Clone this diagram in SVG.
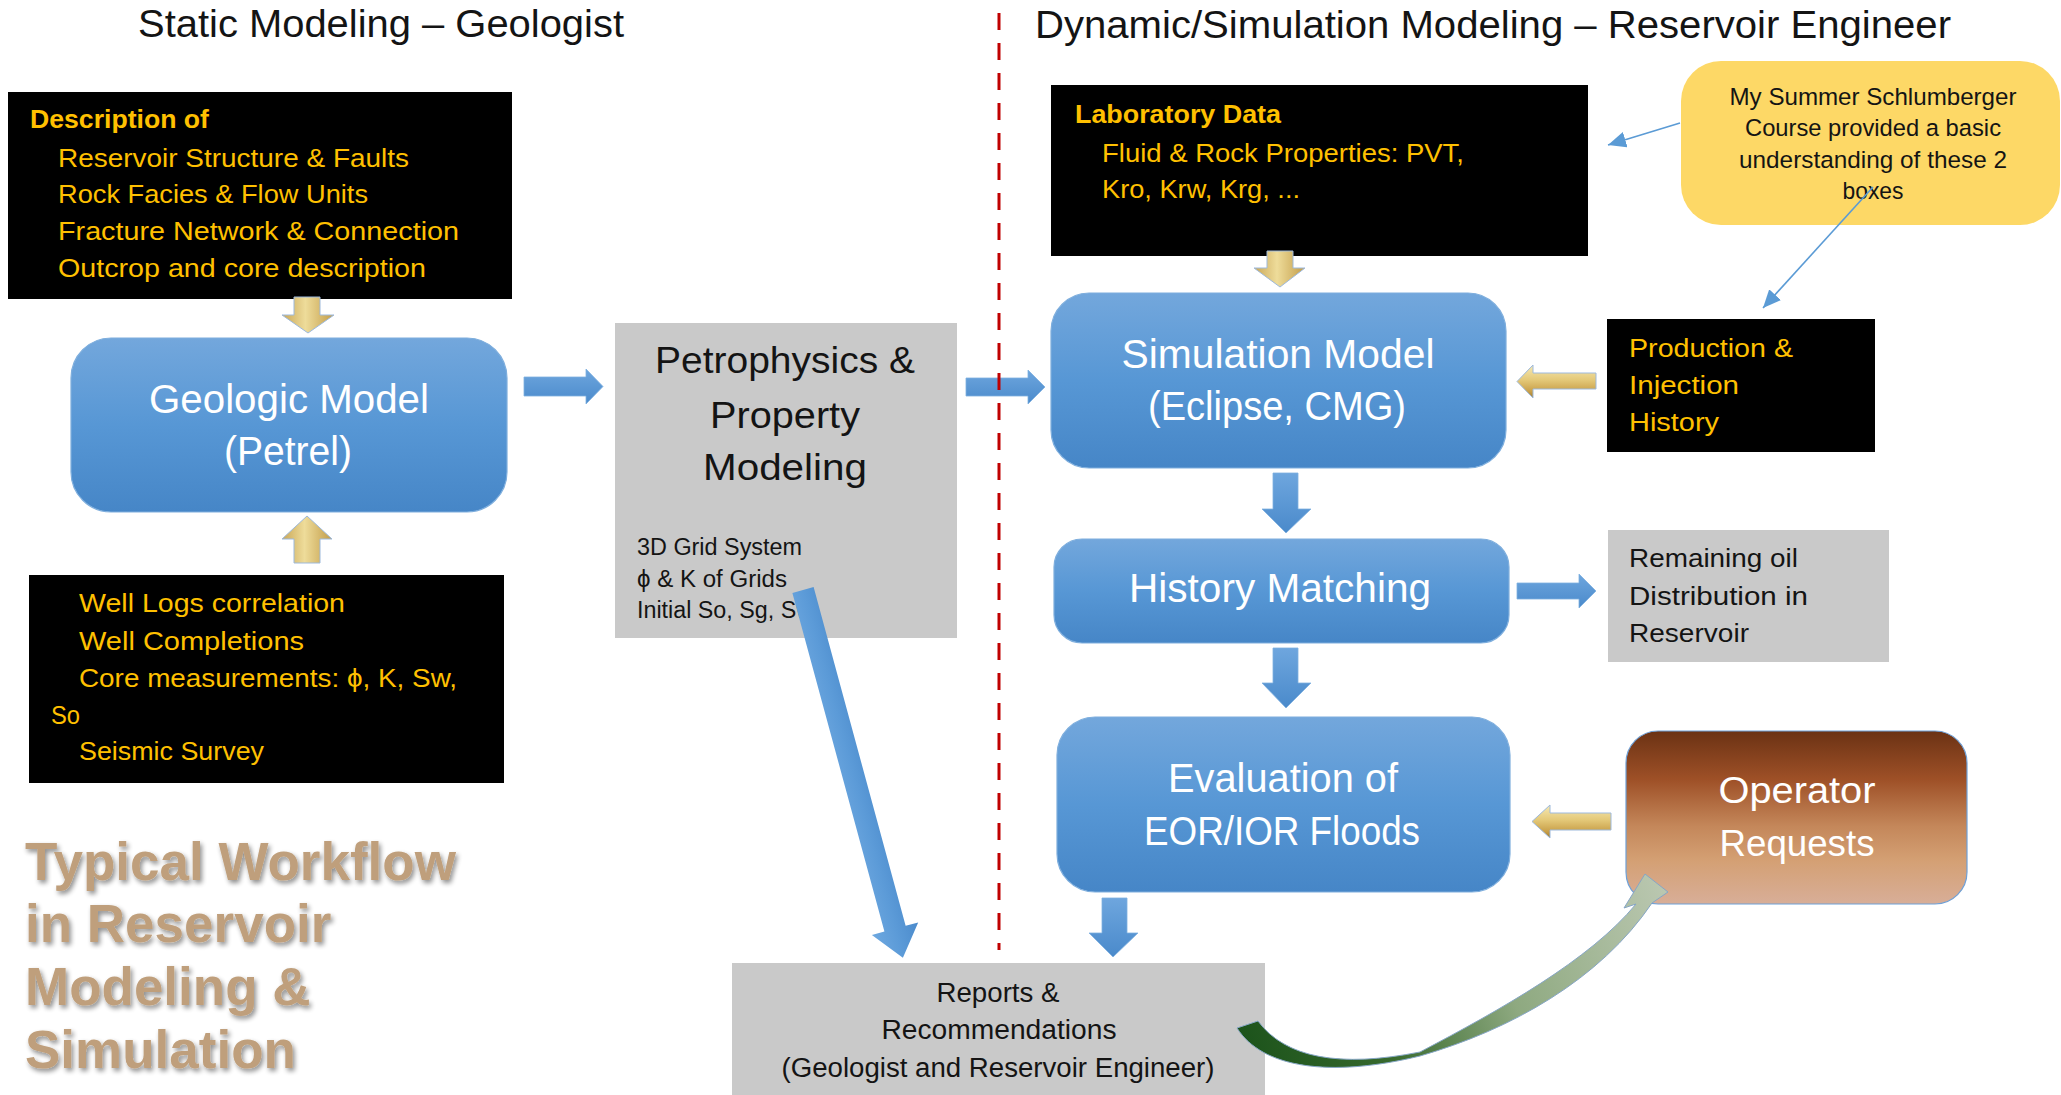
<svg xmlns="http://www.w3.org/2000/svg" width="2061" height="1095" viewBox="0 0 2061 1095">
<defs>
<style>
.t{font-family:"Liberation Sans",Arial,sans-serif;}
.yl{fill:#FFC000;}
.wh{fill:#FFFFFF;}
.bk{fill:#141414;}
.blk{fill:#000000;}
.gry{fill:#C9C9C9;}
.bbox{fill:url(#gBox);stroke:#7EAEDD;stroke-width:1.2;}
.barr{fill:url(#gArr);stroke:#7FB0E0;stroke-width:0.8;}
.gh{fill:url(#gGoldH);stroke:#9DB9DC;stroke-width:1;}
.gv{fill:url(#gGoldV);stroke:#9DB9DC;stroke-width:1;}
.thin{stroke:#5B9BD5;stroke-width:1.6;fill:none;}
.title{font-family:"Liberation Sans",Arial,sans-serif;font-weight:bold;font-size:53px;fill:#BF9F7B;}
</style>
<linearGradient id="gBox" x1="0" y1="0" x2="0" y2="1">
<stop offset="0" stop-color="#73A7DC"/><stop offset="0.5" stop-color="#5797D5"/><stop offset="1" stop-color="#4686C7"/>
</linearGradient>
<linearGradient id="gArr" x1="0" y1="0" x2="0" y2="1">
<stop offset="0" stop-color="#6EA6DE"/><stop offset="1" stop-color="#4A8ACB"/>
</linearGradient>
<linearGradient id="gDiag" x1="0" y1="0" x2="0" y2="1">
<stop offset="0" stop-color="#4B8BCC"/><stop offset="0.5" stop-color="#5C9BD8"/><stop offset="1" stop-color="#6EA8E0"/>
</linearGradient>
<linearGradient id="gGoldH" x1="0" y1="0" x2="0" y2="1">
<stop offset="0" stop-color="#F6E9B4"/><stop offset="0.45" stop-color="#E4C979"/><stop offset="0.8" stop-color="#C9A04A"/><stop offset="1" stop-color="#A07C32"/>
</linearGradient>
<linearGradient id="gGoldV" x1="0" y1="0" x2="1" y2="0">
<stop offset="0" stop-color="#C9A656"/><stop offset="0.45" stop-color="#EEDC9A"/><stop offset="1" stop-color="#C29C48"/>
</linearGradient>
<linearGradient id="gOp" x1="0" y1="0" x2="0" y2="1">
<stop offset="0" stop-color="#6B3214"/><stop offset="0.28" stop-color="#9E5027"/><stop offset="0.55" stop-color="#C4875A"/><stop offset="0.75" stop-color="#D4A074"/><stop offset="1" stop-color="#D8AE98"/>
</linearGradient>
<linearGradient id="gCurve" gradientUnits="userSpaceOnUse" x1="1240" y1="1035" x2="1660" y2="880">
<stop offset="0" stop-color="#1C531B"/><stop offset="0.3" stop-color="#386A2E"/><stop offset="0.6" stop-color="#8EA980"/><stop offset="1" stop-color="#BAC7B0"/>
</linearGradient>
<marker id="mh" markerUnits="userSpaceOnUse" markerWidth="20" markerHeight="16" refX="18" refY="8" orient="auto">
<path d="M0,0 L18,8 L0,16 Z" fill="#5B9BD5"/>
</marker>
<filter id="shadow" x="-5%" y="-10%" width="115%" height="140%">
<feGaussianBlur in="SourceAlpha" stdDeviation="2.5"/>
<feOffset dx="2" dy="3" result="o"/>
<feComponentTransfer><feFuncA type="linear" slope="0.45"/></feComponentTransfer>
<feMerge><feMergeNode/><feMergeNode in="SourceGraphic"/></feMerge>
</filter>
</defs>
<rect x="0" y="0" width="2061" height="1095" fill="#FFFFFF"/>

<g id="header-left">
<text class="t bk" x="138" y="37" font-size="38" textLength="486" lengthAdjust="spacingAndGlyphs">Static Modeling – Geologist</text>
</g>
<g id="header-right">
<text class="t bk" x="1035" y="38" font-size="38" textLength="916" lengthAdjust="spacingAndGlyphs">Dynamic/Simulation  Modeling – Reservoir  Engineer</text>
</g>

<g id="node-description">
<rect class="blk" x="8" y="92" width="504" height="207"/>
<text class="t yl" x="30" y="128" font-size="25.5" font-weight="bold" textLength="179" lengthAdjust="spacingAndGlyphs">Description of</text>
<text class="t yl" x="58" y="167" font-size="25.5" textLength="351" lengthAdjust="spacingAndGlyphs">Reservoir Structure &amp; Faults</text>
<text class="t yl" x="58" y="203" font-size="25.5" textLength="310" lengthAdjust="spacingAndGlyphs">Rock Facies &amp; Flow Units</text>
<text class="t yl" x="58" y="240" font-size="25.5" textLength="401" lengthAdjust="spacingAndGlyphs">Fracture Network &amp; Connection</text>
<text class="t yl" x="58" y="277" font-size="25.5" textLength="368" lengthAdjust="spacingAndGlyphs">Outcrop and core description</text>
</g>

<g id="node-geologic">
<rect class="bbox" x="71" y="338" width="436" height="174" rx="40" ry="40"/>
<text class="t wh" x="289" y="413" font-size="41" text-anchor="middle" textLength="280" lengthAdjust="spacingAndGlyphs">Geologic Model</text>
<text class="t wh" x="288" y="465" font-size="41" text-anchor="middle" textLength="128" lengthAdjust="spacingAndGlyphs">(Petrel)</text>
</g>

<g id="node-welllogs">
<rect class="blk" x="29" y="575" width="475" height="208"/>
<text class="t yl" x="79" y="612" font-size="25.5" textLength="266" lengthAdjust="spacingAndGlyphs">Well Logs correlation</text>
<text class="t yl" x="79" y="650" font-size="25.5" textLength="225" lengthAdjust="spacingAndGlyphs">Well Completions</text>
<text class="t yl" x="79" y="687" font-size="25.5" textLength="378" lengthAdjust="spacingAndGlyphs">Core measurements: ϕ, K, Sw,</text>
<text class="t yl" x="51" y="724" font-size="25.5" textLength="29" lengthAdjust="spacingAndGlyphs">So</text>
<text class="t yl" x="79" y="760" font-size="25.5" textLength="185" lengthAdjust="spacingAndGlyphs">Seismic Survey</text>
</g>

<g id="node-petrophysics">
<rect class="gry" x="615" y="323" width="342" height="315"/>
<text class="t bk" x="785" y="373" font-size="37" text-anchor="middle" textLength="260" lengthAdjust="spacingAndGlyphs">Petrophysics &amp;</text>
<text class="t bk" x="785" y="428" font-size="37" text-anchor="middle" textLength="150" lengthAdjust="spacingAndGlyphs">Property</text>
<text class="t bk" x="785" y="480" font-size="37" text-anchor="middle" textLength="164" lengthAdjust="spacingAndGlyphs">Modeling</text>
<text class="t bk" x="637" y="555" font-size="23.5" textLength="165" lengthAdjust="spacingAndGlyphs">3D Grid System</text>
<text class="t bk" x="637" y="587" font-size="23.5" textLength="150" lengthAdjust="spacingAndGlyphs">ϕ &amp; K of Grids</text>
<text class="t bk" x="637" y="618" font-size="23.5" textLength="176" lengthAdjust="spacingAndGlyphs">Initial So, Sg, Sw</text>
</g>

<g id="node-laboratory">
<rect class="blk" x="1051" y="85" width="537" height="171"/>
<text class="t yl" x="1075" y="123" font-size="25.5" font-weight="bold" textLength="206" lengthAdjust="spacingAndGlyphs">Laboratory Data</text>
<text class="t yl" x="1102" y="162" font-size="25.5" textLength="362" lengthAdjust="spacingAndGlyphs">Fluid &amp; Rock Properties: PVT,</text>
<text class="t yl" x="1102" y="198" font-size="25.5" textLength="198" lengthAdjust="spacingAndGlyphs">Kro, Krw, Krg, ...</text>
</g>

<g id="node-callout">
<rect x="1681" y="61" width="379" height="164" rx="40" ry="40" fill="#FDD866"/>
<text class="t bk" x="1873" y="105" font-size="24.5" text-anchor="middle" textLength="287" lengthAdjust="spacingAndGlyphs">My Summer Schlumberger</text>
<text class="t bk" x="1873" y="136" font-size="24.5" text-anchor="middle" textLength="256" lengthAdjust="spacingAndGlyphs">Course provided a basic</text>
<text class="t bk" x="1873" y="168" font-size="24.5" text-anchor="middle" textLength="268" lengthAdjust="spacingAndGlyphs">understanding of these 2</text>
<text class="t bk" x="1873" y="199" font-size="24.5" text-anchor="middle" textLength="61" lengthAdjust="spacingAndGlyphs">boxes</text>
</g>

<g id="node-simulation">
<rect class="bbox" x="1051" y="293" width="455" height="175" rx="38" ry="38"/>
<text class="t wh" x="1278" y="368" font-size="41" text-anchor="middle" textLength="313" lengthAdjust="spacingAndGlyphs">Simulation Model</text>
<text class="t wh" x="1277" y="420" font-size="41" text-anchor="middle" textLength="258" lengthAdjust="spacingAndGlyphs">(Eclipse, CMG)</text>
</g>

<g id="node-production">
<rect class="blk" x="1607" y="319" width="268" height="133"/>
<text class="t yl" x="1629" y="357" font-size="25.5" textLength="164" lengthAdjust="spacingAndGlyphs">Production &amp;</text>
<text class="t yl" x="1629" y="394" font-size="25.5" textLength="110" lengthAdjust="spacingAndGlyphs">Injection</text>
<text class="t yl" x="1629" y="431" font-size="25.5" textLength="90" lengthAdjust="spacingAndGlyphs">History</text>
</g>

<g id="node-history">
<rect class="bbox" x="1054" y="539" width="455" height="104" rx="28" ry="28"/>
<text class="t wh" x="1280" y="602" font-size="40" text-anchor="middle" textLength="302" lengthAdjust="spacingAndGlyphs">History Matching</text>
</g>

<g id="node-remaining">
<rect class="gry" x="1608" y="530" width="281" height="132"/>
<text class="t bk" x="1629" y="567" font-size="25.5" textLength="169" lengthAdjust="spacingAndGlyphs">Remaining oil</text>
<text class="t bk" x="1629" y="605" font-size="25.5" textLength="179" lengthAdjust="spacingAndGlyphs">Distribution in</text>
<text class="t bk" x="1629" y="642" font-size="25.5" textLength="120" lengthAdjust="spacingAndGlyphs">Reservoir</text>
</g>

<g id="node-evaluation">
<rect class="bbox" x="1057" y="717" width="453" height="175" rx="38" ry="38"/>
<text class="t wh" x="1283" y="792" font-size="40" text-anchor="middle" textLength="230" lengthAdjust="spacingAndGlyphs">Evaluation of</text>
<text class="t wh" x="1282" y="845" font-size="40" text-anchor="middle" textLength="276" lengthAdjust="spacingAndGlyphs">EOR/IOR Floods</text>
</g>

<g id="node-operator">
<rect x="1626" y="731" width="341" height="173" rx="32" ry="32" fill="url(#gOp)" stroke="#6FA0D6" stroke-width="1.2"/>
<text class="t wh" x="1797" y="803" font-size="36" text-anchor="middle" textLength="157" lengthAdjust="spacingAndGlyphs">Operator</text>
<text class="t wh" x="1797" y="856" font-size="36" text-anchor="middle" textLength="155" lengthAdjust="spacingAndGlyphs">Requests</text>
</g>

<g id="node-reports">
<rect class="gry" x="732" y="963" width="533" height="140"/>
<text class="t bk" x="998" y="1002" font-size="27" text-anchor="middle" textLength="123" lengthAdjust="spacingAndGlyphs">Reports &amp;</text>
<text class="t bk" x="999" y="1039" font-size="27" text-anchor="middle" textLength="235" lengthAdjust="spacingAndGlyphs">Recommendations</text>
<text class="t bk" x="998" y="1077" font-size="27" text-anchor="middle" textLength="433" lengthAdjust="spacingAndGlyphs">(Geologist and Reservoir Engineer)</text>
</g>

<g id="title" filter="url(#shadow)">
<text class="title" x="25" y="880">Typical Workflow</text>
<text class="title" x="25" y="942">in Reservoir</text>
<text class="title" x="25" y="1005">Modeling &amp;</text>
<text class="title" x="25" y="1068">Simulation</text>
</g>

<g id="connectors">
<polygon class="gv" points="294,297 320,297 320,315 334,315 308,333 282,315 294,315"/>
<polygon class="gv" points="294,563 320,563 320,539 332,539 307,516 282,539 294,539"/>
<polygon class="gv" points="1267,251 1293,251 1293,268 1305,268 1280,287 1254,268 1267,268"/>
<polygon class="gh" points="1596,373 1533,373 1533,365 1517,381.5 1533,398 1533,389 1596,389"/>
<polygon class="gh" points="1611,813 1550,813 1550,805 1532,821.5 1550,838 1550,830 1611,830"/>
<polygon class="barr" points="524,377 586,377 586,369 603,386.5 586,404 586,396 524,396"/>
<polygon class="barr" points="966,378 1028,378 1028,370 1045,387 1028,404 1028,396 966,396"/>
<polygon class="barr" points="1517,583 1579,583 1579,574 1596,591 1579,608 1579,599 1517,599"/>
<polygon class="barr" points="1273,473 1298,473 1298,509 1311,509 1286,533 1262,509 1273,509"/>
<polygon class="barr" points="1273,648 1298,648 1298,683 1311,683 1286,708 1262,683 1273,683"/>
<polygon class="barr" points="1102,898 1127,898 1127,933 1138,933 1113,957 1089,933 1102,933"/>
<polygon points="0,-11 351,-11 351,-24 381,0 351,24 351,11 0,11" fill="url(#gDiag)" transform="translate(803,590) rotate(74.8)"/>
<line class="thin" x1="1680" y1="123" x2="1608" y2="145" marker-end="url(#mh)"/>
<line class="thin" x1="1873" y1="187" x2="1763" y2="308" marker-end="url(#mh)"/>
<path d="M1237,1028 C1262,1068 1330,1078 1420,1056 C1510,1030 1600,980 1652,903 L1668,892 L1645,874 L1624,908 L1636,904 C1590,960 1500,1010 1420,1052 C1340,1068 1285,1058 1258,1021 Z" fill="url(#gCurve)" stroke="#86A6C6" stroke-width="1"/>
</g>

<line id="divider" x1="999" y1="-17" x2="999" y2="950" stroke="#C00000" stroke-width="3" stroke-dasharray="17 13"/>
</svg>
